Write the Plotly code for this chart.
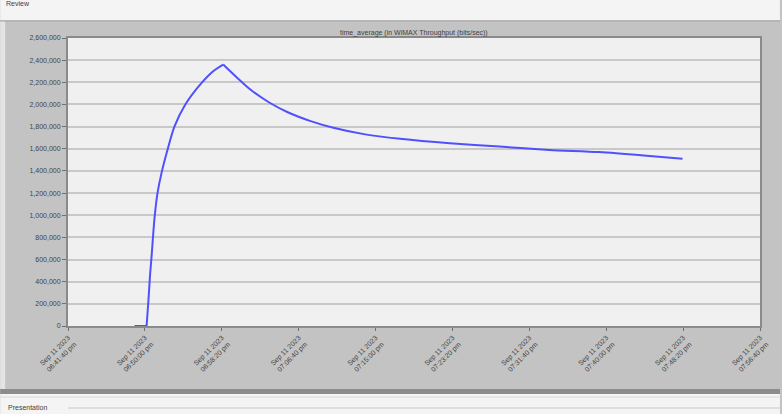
import plotly.graph_objects as go

# Data
times = [
    "2023-09-11 18:48:53", "2023-09-11 18:50:11", "2023-09-11 18:50:24",
    "2023-09-11 18:50:33", "2023-09-11 18:50:43", "2023-09-11 18:51:03",
    "2023-09-11 18:51:22", "2023-09-11 18:51:48", "2023-09-11 18:52:33",
    "2023-09-11 18:53:12", "2023-09-11 18:54:23", "2023-09-11 18:56:06",
    "2023-09-11 18:57:24", "2023-09-11 18:58:29", "2023-09-11 18:59:53",
    "2023-09-11 19:01:30", "2023-09-11 19:03:26", "2023-09-11 19:05:29",
    "2023-09-11 19:07:58", "2023-09-11 19:10:26", "2023-09-11 19:13:53",
    "2023-09-11 19:17:40", "2023-09-11 19:23:03", "2023-09-11 19:28:26",
    "2023-09-11 19:33:49", "2023-09-11 19:39:13", "2023-09-11 19:44:04",
    "2023-09-11 19:48:16",
]
throughput = [
    0, 0, 250000,
    450000, 620000, 980000,
    1200000, 1380000, 1620000,
    1800000, 2000000, 2190000,
    2300000, 2360000, 2250000,
    2130000, 2020000, 1930000,
    1850000, 1790000, 1730000,
    1690000, 1650000, 1620000,
    1590000, 1570000, 1540000,
    1510000,
]
tick_vals = [
    "2023-09-11 18:41:40", "2023-09-11 18:50:00", "2023-09-11 18:58:20",
    "2023-09-11 19:06:40", "2023-09-11 19:15:00", "2023-09-11 19:23:20",
    "2023-09-11 19:31:40", "2023-09-11 19:40:00", "2023-09-11 19:48:20",
    "2023-09-11 19:56:40",
]
tick_text = [
    "Sep 11 2023<br>06:41:40 pm", "Sep 11 2023<br>06:50:00 pm",
    "Sep 11 2023<br>06:58:20 pm", "Sep 11 2023<br>07:06:40 pm",
    "Sep 11 2023<br>07:15:00 pm", "Sep 11 2023<br>07:23:20 pm",
    "Sep 11 2023<br>07:31:40 pm", "Sep 11 2023<br>07:40:00 pm",
    "Sep 11 2023<br>07:48:20 pm", "Sep 11 2023<br>07:56:40 pm",
]
title_text = "time_average (in WiMAX Throughput (bits/sec))"

W, H = 782, 414
L, R, T, B = 68, 20, 38, 88
pw, ph = W - L - R, H - T - B


def px_x(p):
    return (p - L) / pw


def px_y(p):
    return (H - B - p) / ph


LINE_COLOR = "#5050ff"
peak = throughput.index(max(throughput))

fig = go.Figure()
# one series, drawn in pieces so the corners (start of rise, peak) stay sharp
segments = [(0, 2, "linear"), (1, peak + 1, "spline"), (peak, len(times), "spline")]
for a, b, shape in segments:
    fig.add_trace(go.Scatter(
        x=times[a:b], y=throughput[a:b], mode="lines",
        line=dict(color=LINE_COLOR, width=2, shape=shape, smoothing=0.8),
        showlegend=False, hoverinfo="x+y",
    ))

FAM = "Liberation Sans, Arial, sans-serif"
font_small = dict(family=FAM, size=7, color="#444444")

fig.update_layout(
    width=W, height=H,
    margin=dict(l=L, r=R, t=T, b=B),
    paper_bgcolor="#c3c3c3",
    plot_bgcolor="#f0f0f0",
    font=font_small,
    xaxis=dict(
        type="date",
        range=[tick_vals[0], tick_vals[-1]],
        tickmode="array", tickvals=tick_vals, ticktext=tick_text,
        tickangle=-45, tickfont=font_small,
        showgrid=False, zeroline=False,
        showline=True, linecolor="#8a8a8a", linewidth=2, mirror=True,
        ticks="outside", ticklen=3, tickcolor="#707070",
    ),
    yaxis=dict(
        range=[0, 2600000], dtick=200000, tickformat=",d",
        tickfont=font_small,
        showgrid=True, gridcolor="#c8c8c8", gridwidth=2,
        zeroline=False,
        showline=True, linecolor="#8a8a8a", linewidth=2, mirror=True,
        ticks="outside", ticklen=4, tickcolor="#707070",
    ),
    shapes=[
        dict(type="rect", xref="paper", yref="paper",
             x0=px_x(0), x1=px_x(W), y0=px_y(20), y1=px_y(0),
             fillcolor="#f4f4f4", line_width=0, layer="below"),
        dict(type="line", xref="paper", yref="paper",
             x0=px_x(0), x1=px_x(W), y0=px_y(21), y1=px_y(21),
             line=dict(color="#a8a8a8", width=1)),
        dict(type="rect", xref="paper", yref="paper",
             x0=px_x(0), x1=px_x(W), y0=px_y(394), y1=px_y(389),
             fillcolor="#8c8c8c", line_width=0, layer="below"),
        dict(type="rect", xref="paper", yref="paper",
             x0=px_x(0), x1=px_x(W), y0=px_y(H), y1=px_y(394),
             fillcolor="#f4f4f4", line_width=0, layer="below"),
        dict(type="line", xref="paper", yref="paper",
             x0=px_x(0), x1=px_x(W), y0=px_y(397), y1=px_y(397),
             line=dict(color="#d8d8d8", width=1)),
        dict(type="line", xref="paper", yref="paper",
             x0=px_x(68), x1=px_x(W), y0=px_y(408), y1=px_y(408),
             line=dict(color="#c8c8c8", width=1)),
        dict(type="rect", xref="paper", yref="paper",
             x0=px_x(0), x1=px_x(5), y0=px_y(389), y1=px_y(21),
             fillcolor="#e4e4e4", line_width=0, layer="below"),
    ],
    annotations=[
        dict(text=title_text, xref="paper", yref="paper",
             x=0.5, y=px_y(33), xanchor="center", yanchor="middle",
             showarrow=False, font=dict(family=FAM, size=7, color="#404040")),
        dict(text="Presentation", xref="paper", yref="paper",
             x=px_x(6), y=px_y(407), xanchor="left", yanchor="middle",
             showarrow=False, font=dict(family=FAM, size=7, color="#404040")),
        dict(text="Review", xref="paper", yref="paper",
             x=px_x(4), y=px_y(3), xanchor="left", yanchor="middle",
             showarrow=False, font=dict(family=FAM, size=7, color="#404040")),
    ],
)

fig.write_html(
    "out.html",
    config={"displayModeBar": False},
    post_script="document.body.style.margin='0';document.body.style.overflow='hidden';",
)
